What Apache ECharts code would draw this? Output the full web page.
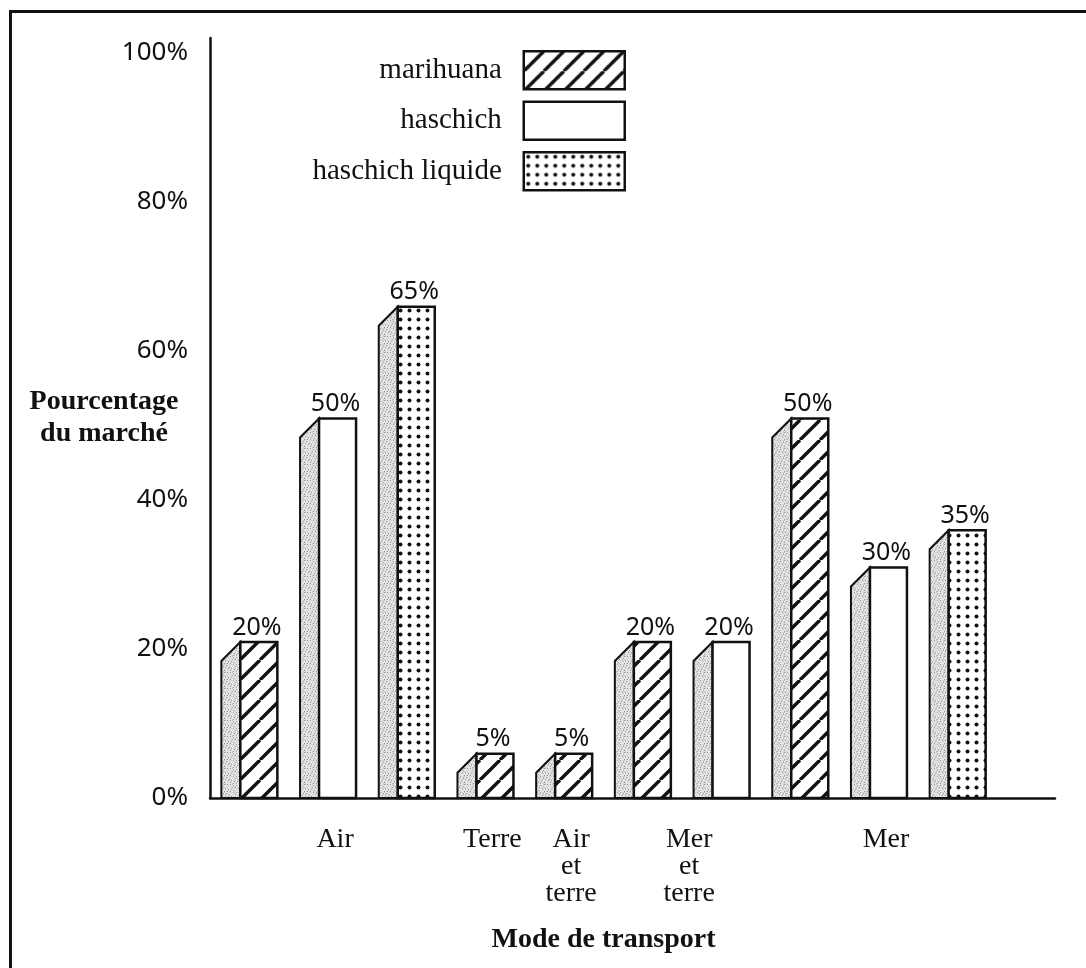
<!DOCTYPE html>
<html>
<head>
<meta charset="utf-8">
<title>Mode de transport</title>
<script src="https://cdn.jsdelivr.net/npm/echarts@6/dist/echarts.min.js"></script>
<style>
    html, body { margin: 0; padding: 0; background: #fff; }
    #wrap { position: relative; width: 1086px; height: 968px; }
    #chart { width: 1086px; height: 968px; }
    /* cadre du document scanné : bord haut et bord gauche */
    #frame {
        position: absolute; left: 9px; top: 10px; right: 0; bottom: 0;
        border-left: 3px solid #111; border-top: 3px solid #111;
        pointer-events: none;
    }
</style>
</head>
<body>
<div id="wrap">
    <div id="chart"></div>
    <div id="frame"></div>
</div>
<script>
    // une position par barre, de gauche à droite
    const slotNames = ['Air/marihuana', 'Air/haschich', 'Air/haschich liquide', 'Terre/marihuana',
        'Air et terre/marihuana', 'Mer et terre/marihuana', 'Mer et terre/haschich',
        'Mer/marihuana', 'Mer/haschich', 'Mer/haschich liquide'];
    const marihuana = [20, null, null, 5, 5, 20, null, 50, null, null];
    const haschich = [null, 50, null, null, null, null, 20, null, 30, null];
    const haschichLiquide = [null, null, 65, null, null, null, null, null, null, 35];
    const seriesNames = ['marihuana', 'haschich', 'haschich liquide'];
    // étiquettes de groupe sur demi-positions (21 points, bords et centres des barres)
    const groupTicks = ['', '', '', 'Air', '', '', '', 'Terre', '', 'Air\net\nterre', '', '',
        'Mer\net\nterre', '', '', '', '', 'Mer', '', '', ''];
    const yTicks = [0, 20, 40, 60, 80, 100];

    const SERIF = '"Liberation Serif", "DejaVu Serif", serif';
    const SANS = '"Noto Sans", "DejaVu Sans", sans-serif';
    const INK = '#111';

    // motifs de remplissage
    function makeCanvas(w, h) {
        let c = document.createElement('canvas');
        c.width = w;
        c.height = h;
        return c;
    }
    let hatchCanvas = makeCanvas(20, 20);
    (function () {
        let ctx = hatchCanvas.getContext('2d');
        ctx.fillStyle = '#fff';
        ctx.fillRect(0, 0, 20, 20);
        ctx.strokeStyle = INK;
        ctx.lineWidth = 3.4;
        ctx.beginPath();
        [-20, 0, 20].forEach(k => {
            ctx.moveTo(k, 20);
            ctx.lineTo(k + 20, 0);
        });
        ctx.stroke();
    })();
    let dotCanvas = makeCanvas(9, 9);
    (function () {
        let ctx = dotCanvas.getContext('2d');
        ctx.fillStyle = '#fff';
        ctx.fillRect(0, 0, 9, 9);
        ctx.fillStyle = INK;
        ctx.beginPath();
        ctx.arc(4.5, 4.5, 2, 0, Math.PI * 2);
        ctx.fill();
    })();
    let stippleCanvas = makeCanvas(16, 16);
    (function () {
        let ctx = stippleCanvas.getContext('2d');
        ctx.fillStyle = '#e6e6e6';
        ctx.fillRect(0, 0, 16, 16);
        ctx.fillStyle = '#9a9a9a';
        for (let i = 0; i < 256; i += 7) {
            let x = (i * 5) % 16, y = Math.floor(i / 16);
            ctx.fillRect(x, y, 1, 1);
        }
        ctx.fillStyle = '#c4c4c4';
        for (let i = 3; i < 256; i += 5) {
            let x = (i * 11) % 16, y = Math.floor(i / 16);
            ctx.fillRect(x, y, 1, 1);
        }
    })();

    const fills = [
        {image: hatchCanvas, repeat: 'repeat'},
        '#fff',
        {image: dotCanvas, repeat: 'repeat'}
    ];
    const stipple = {image: stippleCanvas, repeat: 'repeat'};

    function barSeries(name, values, fill) {
        let data = [];
        values.forEach((v, i) => {
            if (v != null) data.push([i, v]);
        });
        return {
            name: name,
            type: 'custom',
            xAxisIndex: 0,
            yAxisIndex: 0,
            itemStyle: {color: fill, borderColor: INK, borderWidth: 2},
            data: data,
            renderItem: function (params, api) {
                let slot = api.value(0);
                let val = api.value(1);
                let top = api.coord([slot, val]);
                let base = api.coord([slot, 0])[1];
                let cx = top[0];
                let left = cx - 28, frontL = cx - 9, frontR = cx + 28;
                let y = top[1] - 7;   // face avant légèrement surélevée (effet 3D)
                let depth = 19;
                return {
                    type: 'group',
                    children: [
                        {
                            type: 'polygon',
                            shape: {points: [[left, base], [left, y + depth], [frontL, y], [frontL, base]]},
                            style: {fill: stipple, stroke: INK, lineWidth: 2}
                        },
                        {
                            type: 'rect',
                            shape: {x: frontL, y: y, width: frontR - frontL, height: base - y},
                            style: {fill: fill, stroke: INK, lineWidth: 2.5}
                        },
                        {
                            type: 'text',
                            x: (frontL + frontR) / 2 - 2,
                            y: y - 2,
                            style: {
                                text: val + '%',
                                align: 'center',
                                verticalAlign: 'bottom',
                                fontFamily: SANS,
                                fontSize: 25,
                                fill: INK
                            }
                        }
                    ]
                };
            }
        };
    }

    let chart = echarts.init(document.getElementById('chart'), null, {renderer: 'canvas'});
    let options = {
        backgroundColor: '#fff',
        animation: false,
        grid: [
            {left: 210, right: 89, top: 38, bottom: 170, outerBoundsMode: 'none', containLabel: false},
            {left: 210, right: 31, top: 38, bottom: 170, outerBoundsMode: 'none', containLabel: false}
        ],
        legend: {
            orient: 'vertical',
            right: 460,
            top: 50,
            padding: 0,
            align: 'right',
            icon: 'rect',
            itemWidth: 101,
            itemHeight: 38,
            itemGap: 10,
            selectedMode: false,
            textStyle: {fontFamily: SERIF, fontSize: 29, color: INK, padding: [0, 17, 0, 0]},
            data: seriesNames.map((n, i) => ({
                name: n,
                itemStyle: {color: fills[i], borderColor: INK, borderWidth: 2.5}
            }))
        },
        xAxis: [
            {
                gridIndex: 0,
                type: 'category',
                data: slotNames,
                axisLine: {show: false},
                axisTick: {show: false},
                axisLabel: {show: false},
                splitLine: {show: false}
            },
            {
                gridIndex: 0,
                type: 'category',
                position: 'bottom',
                boundaryGap: false,
                data: groupTicks.map((t, i) => 'p' + i),
                axisLine: {show: false},
                axisTick: {show: false},
                splitLine: {show: false},
                axisLabel: {
                    interval: 0,
                    margin: 28,
                    fontFamily: SERIF,
                    fontSize: 28,
                    lineHeight: 27,
                    color: INK,
                    padding: [0, 0, 0, 14],
                    formatter: function (v, i) {
                        return groupTicks[i];
                    }
                },
                name: 'Mode de transport',
                nameLocation: 'middle',
                nameGap: 128,
                nameMoveOverlap: false,
                nameTextStyle: {fontFamily: SERIF, fontWeight: 'bold', fontSize: 28, color: INK}
            },
            {
                gridIndex: 1,
                type: 'value',
                min: 0,
                max: 1,
                axisLine: {show: true, lineStyle: {color: INK, width: 2.5}},
                axisTick: {show: false},
                axisLabel: {show: false},
                splitLine: {show: false}
            }
        ],
        yAxis: [
            {
                gridIndex: 0,
                type: 'value',
                min: 0,
                max: 102,
                interval: 20,
                axisLine: {show: true, lineStyle: {color: INK, width: 2.5}},
                axisTick: {show: false},
                splitLine: {show: false},
                axisLabel: {
                    margin: 22,
                    fontFamily: SANS,
                    fontSize: 26,
                    color: INK,
                    formatter: function (v) {
                        return yTicks.indexOf(v) >= 0 ? v + '%' : '';
                    }
                },
                name: 'Pourcentage\ndu marché',
                nameLocation: 'middle',
                nameRotate: 0,
                nameGap: 106,
                nameMoveOverlap: false,
                nameTextStyle: {
                    fontFamily: SERIF, fontWeight: 'bold', fontSize: 28, lineHeight: 32,
                    align: 'center', color: INK, padding: [12, 0, 0, 0]
                }
            },
            {
                gridIndex: 1,
                type: 'value',
                show: false
            }
        ],
        series: [
            barSeries(seriesNames[0], marihuana, fills[0]),
            barSeries(seriesNames[1], haschich, fills[1]),
            barSeries(seriesNames[2], haschichLiquide, fills[2])
        ]
    };
    chart.setOption(options);

    window.addEventListener('resize', () => {
        chart.resize();
    });
</script>
</body>
</html>
